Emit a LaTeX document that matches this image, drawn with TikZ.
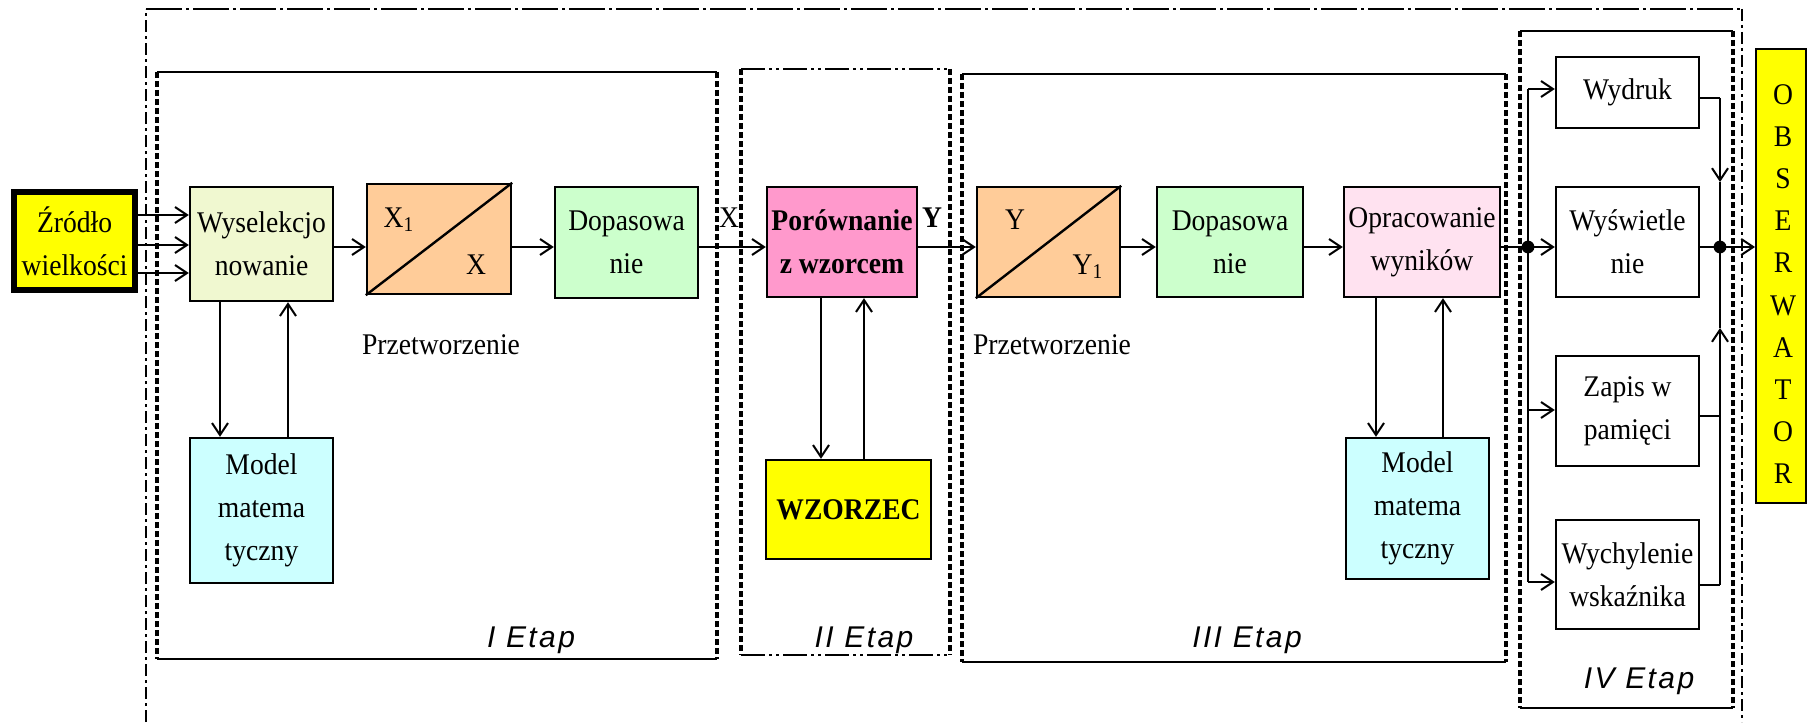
\documentclass[tikz,border=0pt]{standalone}
\usepackage{fontspec}
\setmainfont{Liberation Serif}[FakeStretch=0.92]
\newfontfamily\etapfont{Liberation Sans}[LetterSpace=8]
\usetikzlibrary{arrows.meta}
\definecolor{yel}{HTML}{FFFF00}
\definecolor{wyc}{HTML}{F0F8D0}
\definecolor{ora}{HTML}{FFCC99}
\definecolor{grn}{HTML}{CCFFCC}
\definecolor{pnk}{HTML}{FF99CC}
\definecolor{lpk}{HTML}{FFE2F0}
\definecolor{cyn}{HTML}{CCFFFF}
\tikzset{
  box/.style={draw, line width=1.2pt, inner sep=1pt, align=center,
    font=\fontsize{15}{21.5}\selectfont},
  arr/.style={line width=1pt, -{Straight Barb[length=6pt,width=8pt,line width=1pt]}},
  wire/.style={line width=1pt},
  lbl/.style={inner sep=0pt, font=\fontsize{15}{18}\selectfont},
  etap/.style={inner sep=0pt, font=\etapfont\itshape\fontsize{15}{18}\selectfont},
  solidedge/.style={line width=1.3pt},
  dashedge/.style={line width=1.6pt, dash pattern=on 3pt off 1.5pt},
  outerframe/.style={line width=1.1pt, dash pattern=on 18pt off 2pt on 1.5pt off 2pt},
  outerside/.style={line width=1.1pt, dash pattern=on 6pt off 2pt on 1.5pt off 2pt},
  dotdash/.style={line width=1.3pt, dash pattern=on 12pt off 2pt on 1.5pt off 2pt on 1.5pt off 2pt},
}
\begin{document}
\begin{tikzpicture}[x=0.5pt,y=-0.5pt]
\useasboundingbox (0,0) rectangle (1807,722);

% ---- frames ----
\draw[outerside] (146,722) -- (146,9);
\draw[outerframe] (146,9) -- (1742,9);
\draw[outerside] (1742,9) -- (1742,722);

% Stage I
\draw[solidedge] (157,72) -- (717,72);
\draw[solidedge] (157,659) -- (717,659);
\draw[dashedge] (157,72) -- (157,659);
\draw[dashedge] (717,72) -- (717,659);
% Stage II
\draw[dotdash] (741,69) -- (950,69);
\draw[dotdash] (741,655) -- (950,655);
\draw[dashedge] (741,69) -- (741,655);
\draw[dashedge] (950,69) -- (950,655);
% Stage III
\draw[solidedge] (962,74) -- (1506,74);
\draw[solidedge] (962,662) -- (1506,662);
\draw[dashedge] (962,74) -- (962,662);
\draw[dashedge] (1506,74) -- (1506,662);
% Stage IV
\draw[solidedge] (1520,31) -- (1733,31);
\draw[solidedge] (1520,708) -- (1733,708);
\draw[dashedge, line width=2pt] (1520,31) -- (1520,708);
\draw[dashedge] (1733,31) -- (1733,708);

% ---- blocks ----
\node[box, fill=yel, line width=3pt, minimum width=60.5pt, minimum height=49pt] (zr) at (74.6,241.3) {Źródło\\wielkości};
\node[box, fill=wyc, minimum width=71.5pt, minimum height=57pt] (wy) at (261.5,244) {Wyselekcjo\\nowanie};
\node[box, fill=ora, minimum width=72pt, minimum height=55pt] (x1) at (439,239) {};
\node[box, fill=grn, minimum width=71.5pt, minimum height=55.5pt] (d1) at (626.5,242.5) {Dopasowa\\nie};
\node[box, fill=pnk, font=\bfseries\fontsize{15}{21.5}\selectfont, minimum width=75pt, minimum height=55pt] (po) at (842,242) {Porównanie\\z wzorcem};
\node[box, fill=yel, font=\bfseries\fontsize{15}{21.5}\selectfont, minimum width=82.5pt, minimum height=49.5pt] (wz) at (848.5,509.5) {WZORZEC};
\node[box, fill=ora, minimum width=71.5pt, minimum height=55pt] (y1) at (1048.5,242) {};
\node[box, fill=grn, minimum width=73pt, minimum height=55pt] (d2) at (1230,242) {Dopasowa\\nie};
\node[box, fill=lpk, minimum width=78pt, minimum height=55pt] (op) at (1422,242) {Opracowanie\\wyników};
\node[box, fill=cyn, minimum width=71.5pt, minimum height=72.5pt] (m1) at (261.5,510.5) {Model\\matema\\tyczny};
\node[box, fill=cyn, minimum width=71.5pt, minimum height=70.5pt] (m2) at (1417.5,508.5) {Model\\matema\\tyczny};
\node[box, fill=white, minimum width=71.5pt, minimum height=35.5pt] (wd) at (1627.5,92.5) {Wydruk};
\node[box, fill=white, minimum width=71.5pt, minimum height=55pt] (ws) at (1627.5,242) {Wyświetle\\nie};
\node[box, fill=white, minimum width=71.5pt, minimum height=55pt] (za) at (1627.5,411) {Zapis w\\pamięci};
\node[box, fill=white, minimum width=71.5pt, minimum height=54.5pt] (wc) at (1627.5,574.5) {Wychylenie\\wskaźnika};
\node[box, fill=yel, line width=1pt, minimum width=25pt, minimum height=227pt] (ob) at (1781,276) {};
\node[lbl, align=center, font=\fontsize{15}{21.1}\selectfont] (obt) at (1783,284) {O\\B\\S\\E\\R\\W\\A\\T\\O\\R};

% converter diagonals and labels
\draw[line width=1.2pt] (x1.south west) -- (x1.north east);
\draw[line width=1.2pt] (y1.south west) -- (y1.north east);
\node[lbl] (x1a) at (399,220) {X\textsubscript{1}};
\node[lbl] (x1b) at (476,265) {X};
\node[lbl] (y1a) at (1015,220) {Y};
\node[lbl] (y1b) at (1088,267) {Y\textsubscript{1}};

% signal labels
\node[lbl] (lx) at (729,218) {X};
\node[lbl, font=\bfseries\fontsize{15}{18}\selectfont] (ly) at (932,218) {Y};

% text labels
\node[lbl] (p1) at (441,345) {Przetworzenie};
\node[lbl] (p2) at (1052,345) {Przetworzenie};
\node[etap] (e1) at (531,640) {I Etap};
\node[etap] (e2) at (864,640) {II Etap};
\node[etap] (e3) at (1247,640) {III Etap};
\node[etap] (e4) at (1639,681) {IV Etap};

% ---- connectors ----
\coordinate (main) at (0,247);
\coordinate (r1) at (0,215);
\coordinate (r2) at (0,245);
\coordinate (r3) at (0,273);
\draw[arr] (zr.east |- r1) -- (wy.west |- r1);
\draw[arr] (zr.east |- r2) -- (wy.west |- r2);
\draw[arr] (zr.east |- r3) -- (wy.west |- r3);

\draw[arr] (wy.east |- main) -- (x1.west |- main);
\draw[arr] (x1.east |- main) -- (d1.west |- main);
\draw[arr] (d1.east |- main) -- (po.west |- main);
\draw[arr] (po.east |- main) -- (y1.west |- main);
\draw[arr] (y1.east |- main) -- (d2.west |- main);
\draw[arr] (d2.east |- main) -- (op.west |- main);

\coordinate (j1) at (1528,247);
\coordinate (j2) at (1720,247);
\draw[wire] (op.east |- main) -- (j1);
\draw[arr] (j1) -- (ws.west |- main);
\draw[wire] (ws.east |- main) -- (j2);
\draw[arr] (j2) -- (ob.west |- main);
\fill (j1) circle (3.2pt);
\fill (j2) circle (3.2pt);

% feedback to models
\coordinate (c1) at (220,0);
\coordinate (c2) at (288,0);
\draw[arr] (wy.south -| c1) -- (m1.north -| c1);
\draw[arr] (m1.north -| c2) -- (wy.south -| c2);
\coordinate (c3) at (821,0);
\coordinate (c4) at (864,0);
\draw[arr] (po.south -| c3) -- (wz.north -| c3);
\draw[arr] (wz.north -| c4) -- (po.south -| c4);
\coordinate (c5) at (1376,0);
\coordinate (c6) at (1443,0);
\draw[arr] (op.south -| c5) -- (m2.north -| c5);
\draw[arr] (m2.north -| c6) -- (op.south -| c6);

% stage IV distribution
\coordinate (bt) at (1528,89);
\coordinate (bz) at (1528,410);
\coordinate (bw) at (1528,582);
\draw[wire] (bt) -- (bw);
\draw[arr] (bt) -- (wd.west |- bt);
\draw[arr] (bz) -- (za.west |- bz);
\draw[arr] (bw) -- (wc.west |- bw);

\coordinate (ra) at (1720,98);
\coordinate (rm) at (1720,182);
\coordinate (rz) at (1720,416);
\coordinate (rw) at (1720,585);
\coordinate (ru) at (1720,328);
\draw[wire] (wd.east |- ra) -- (ra);
\draw[arr] (ra) -- (rm);
\draw[wire] (rm) -- (j2);
\draw[wire] (za.east |- rz) -- (rz);
\draw[wire] (wc.east |- rw) -- (rw);
\draw[arr] (rw) -- (ru);
\draw[wire] (ru) -- (j2);
\end{tikzpicture}
\end{document}
